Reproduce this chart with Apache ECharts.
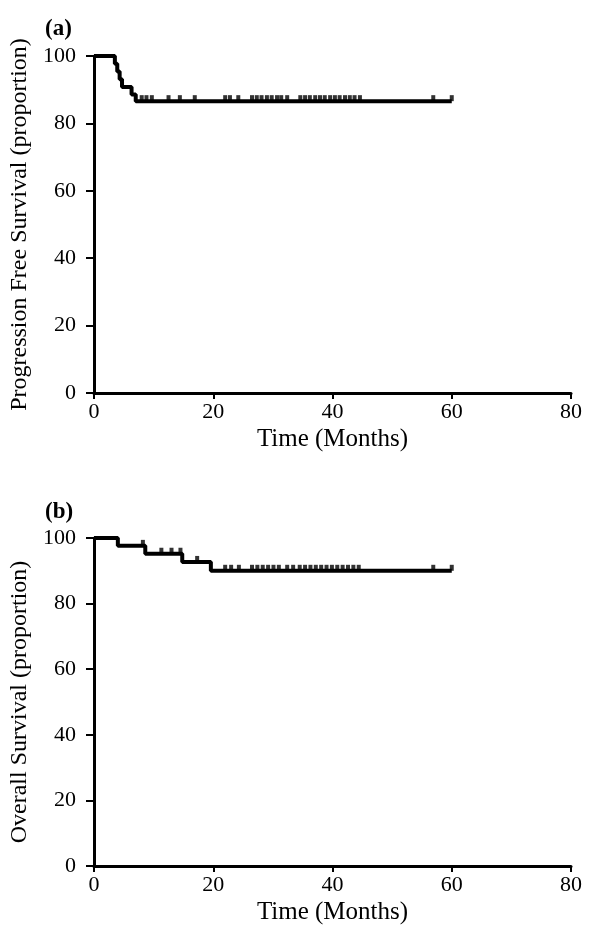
<!DOCTYPE html>
<html>
<head>
<meta charset="utf-8">
<script src="https://cdn.jsdelivr.net/npm/echarts@6/dist/echarts.min.js"></script>
<style>
html,body{margin:0;padding:0;background:#fff;}
#c{width:596px;height:932px;}
</style>
</head>
<body>
<div id="c"></div>
<script>
// Panel (a): Progression free survival — event times and survival after each event
const pfsTimes = [0, 3.5, 3.9, 4.3, 4.7, 6.3, 7.0, 60];
const pfsSurv  = [100, 97.7, 95.4, 93.1, 90.8, 88.6, 86.6, 86.6];
const pfsCensor = [8.0, 8.8, 9.7, 12.5, 14.4, 16.9, 22.0, 22.8, 24.2, 26.5, 27.3, 28.1, 29.0, 29.8, 30.7, 31.4, 32.4, 34.6, 35.4, 36.2, 37.1, 37.9, 38.7, 39.6, 40.4, 41.2, 42.1, 42.9, 43.7, 44.6, 56.9, 60.0];

// Panel (b): Overall survival
const osTimes = [0, 4.0, 8.6, 14.8, 19.6, 60];
const osSurv  = [100, 97.6, 95.2, 92.7, 90.0, 90.0];
const osCensor = [8.2, 11.3, 13.0, 14.5, 17.3, 22.0, 23.0, 24.3, 26.5, 27.4, 28.3, 29.2, 30.1, 31.0, 32.4, 33.4, 34.5, 35.4, 36.3, 37.2, 38.1, 39.0, 39.9, 40.8, 41.7, 42.6, 43.5, 44.4, 56.9, 60.0];

const xTicks = [0, 20, 40, 60, 80];
const yTicks = [0, 20, 40, 60, 80, 100];
const xTitle = 'Time (Months)';
const yTitleA = 'Progression Free Survival (proportion)';
const yTitleB = 'Overall Survival (proportion)';

function survAt(times, surv, t){
  let s = surv[0];
  for (let i = 0; i < times.length; i++) { if (times[i] <= t) s = surv[i]; }
  return s;
}
const FONT = 'Liberation Serif';

function axesFor(idx, yTitle){
  const xa = {
    type:'value', gridIndex: idx, min: xTicks[0], max: xTicks[xTicks.length-1], interval: 20,
    axisLine:{show:true, lineStyle:{color:'#000', width:3}},
    axisTick:{show:true, length:6, lineStyle:{color:'#000', width:2}},
    axisLabel:{color:'#000', fontFamily:FONT, fontSize:22, margin:8},
    splitLine:{show:false},
    name: xTitle, nameLocation:'middle', nameGap: 34,
    nameTextStyle:{color:'#000', fontFamily:FONT, fontSize:25}
  };
  const ya = {
    type:'value', gridIndex: idx, min: yTicks[0], max: yTicks[yTicks.length-1], interval: 20,
    axisLine:{show:true, lineStyle:{color:'#000', width:3}},
    axisTick:{show:true, length:8, lineStyle:{color:'#000', width:2}},
    axisLabel:{color:'#000', fontFamily:FONT, fontSize:22, margin:18},
    splitLine:{show:false},
    name: yTitle, nameLocation:'middle', nameGap: 59,
    nameTextStyle:{color:'#000', fontFamily:FONT, fontSize:24}
  };
  return [xa, ya];
}
const [xa0, ya0] = axesFor(0, yTitleA);
const [xa1, ya1] = axesFor(1, yTitleB);

function lineSeries(idx, times, surv){
  return {
    type:'line', xAxisIndex: idx, yAxisIndex: idx, step:'end',
    data: times.map((t,i)=>[t, surv[i]]),
    showSymbol:false, symbol:'none',
    lineStyle:{color:'#000', width:4}, silent:true, animation:false
  };
}
function censorSeries(idx, times, surv, cens){
  return {
    type:'scatter', xAxisIndex: idx, yAxisIndex: idx,
    data: cens.map(t=>[t, survAt(times, surv, t)]),
    symbol:'rect', symbolSize:[4,6], symbolOffset:[0,-3],
    itemStyle:{color:'#000'}, silent:true, animation:false
  };
}

const chart = echarts.init(document.getElementById('c'), null, {renderer:'canvas'});
chart.setOption({
  backgroundColor:'#fff',
  animation:false,
  title:[
    {text:'(a)', left:40, top:13, textStyle:{fontFamily:FONT, fontSize:23, fontWeight:'bold', color:'#000'}},
    {text:'(b)', left:40, top:496, textStyle:{fontFamily:FONT, fontSize:23, fontWeight:'bold', color:'#000'}}
  ],
  grid:[
    {left:94, right:25, top:56, height:337},
    {left:94, right:25, top:538, height:328}
  ],
  xAxis:[xa0, xa1],
  yAxis:[ya0, ya1],
  series:[
    lineSeries(0, pfsTimes, pfsSurv),
    censorSeries(0, pfsTimes, pfsSurv, pfsCensor),
    lineSeries(1, osTimes, osSurv),
    censorSeries(1, osTimes, osSurv, osCensor)
  ]
});
</script>
</body>
</html>
